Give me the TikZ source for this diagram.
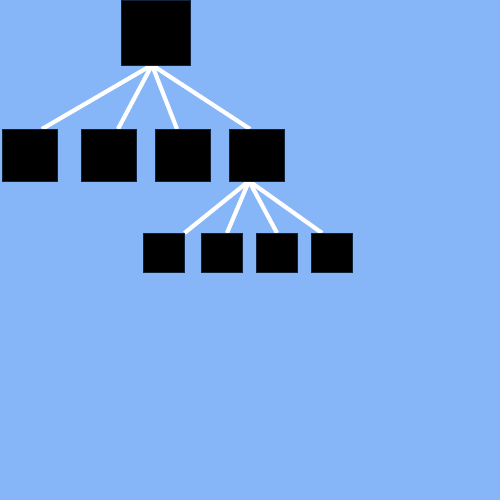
\documentclass[tikz,border=0pt]{standalone}
\usetikzlibrary{calc}
\definecolor{bg}{RGB}{135,182,248}
\definecolor{boxedge}{RGB}{20,35,60}
\pgfdeclarelayer{back}
\pgfdeclarelayer{links}
\pgfsetlayers{back,links,main}
\begin{document}
\begin{tikzpicture}[x=1pt,y=-1pt,
  box/.style={draw=boxedge,line width=0.8pt,fill=black,inner sep=0pt,outer sep=0pt},
  bigbox/.style={box,minimum width=69pt,minimum height=65pt},
  midbox/.style={box,minimum width=55pt,minimum height=52pt},
  smallbox/.style={box,minimum width=41pt,minimum height=39pt},
  link/.style={draw=white,line width=4.2pt}]
\begin{pgfonlayer}{back}
\fill[bg] (0,0) rectangle (500,500);
\end{pgfonlayer}
\useasboundingbox (0,0) rectangle (500,500);
\node[bigbox] (r) at (155.5,32.5) {};
\node[midbox] (a) at (29.5,155) {};
\node[midbox] (b) at (108.5,155) {};
\node[midbox] (c) at (182.5,155) {};
\node[midbox] (d) at (256.5,155) {};
\node[smallbox] (e) at (163.5,252.5) {};
\node[smallbox] (f) at (222,252.5) {};
\node[smallbox] (g) at (276.5,252.5) {};
\node[smallbox] (h) at (331.5,252.5) {};
\coordinate (rs) at ($(r.south)+(-3.5,0)$);
\coordinate (ds) at ($(d.south)+(-7.5,0)$);
\begin{pgfonlayer}{links}
\draw[link] (rs) -- ($(a.north)+(12.5,0)$);
\draw[link] (rs) -- ($(b.north)+(9.5,0)$);
\draw[link] (rs) -- ($(c.north)+(-5.5,0)$);
\draw[link] (rs) -- ($(d.north)+(-6.5,0)$);
\draw[link] (ds) -- ($(e.north)+(21,0)$);
\draw[link] (ds) -- ($(f.north)+(5,0)$);
\draw[link] (ds) -- ($(g.north)+(0.5,0)$);
\draw[link] (ds) -- ($(h.north)+(-9.5,0)$);
\end{pgfonlayer}
\end{tikzpicture}
\end{document}
